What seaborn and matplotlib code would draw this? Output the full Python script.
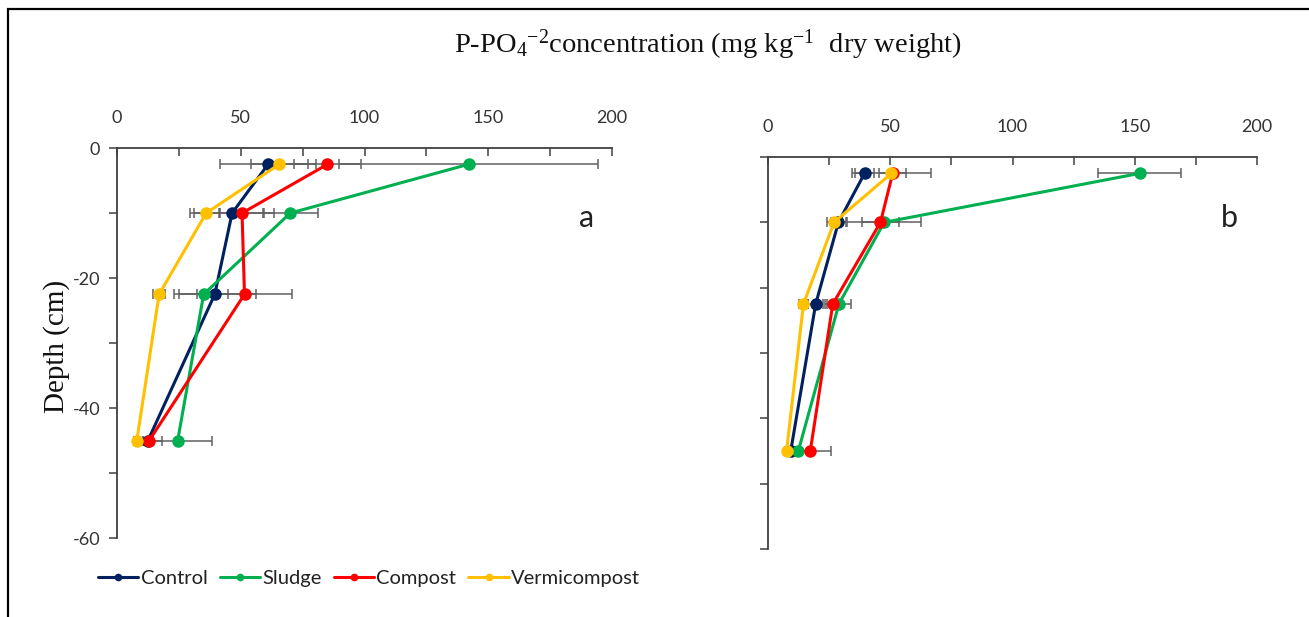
import matplotlib
matplotlib.use("Agg")
import matplotlib.pyplot as plt
import seaborn as sns
import pandas as pd
from matplotlib.lines import Line2D
from matplotlib.patches import Rectangle
from matplotlib.ticker import MultipleLocator

# ---------------- data ----------------
treatments = ["Control", "Sludge", "Compost", "Vermicompost"]
colors = ["#002060", "#00B050", "#FF0000", "#FFC000"]
depth = [-2.5, -10, -22.5, -45]

a_control = [61, 46.5, 39.5, 12.5]
a_control_sd = [19.5, 17, 16.5, 2]
a_sludge = [142, 70, 35, 24.5]
a_sludge_sd = [52.5, 11, 10, 14]
a_compost = [85, 50.5, 51.5, 13]
a_compost_sd = [13.5, 9, 19, 5]
a_verm = [65.5, 36, 17, 8]
a_verm_sd = [11.5, 5, 2.3, 1]

b_control = [39.5, 28.8, 19.5, 9.3]
b_control_sd = [4, 3, 3, 0.8]
b_sludge = [152, 47.5, 29, 12.4]
b_sludge_sd = [17, 15, 5, 1]
b_compost = [51, 46, 26.5, 17.3]
b_compost_sd = [5.5, 7.5, 3, 8.6]
b_verm = [50.5, 27, 14.5, 7.6]
b_verm_sd = [16, 3, 2, 0.6]

x_ticks = [0, 50, 100, 150, 200]
y_ticks = [-60, -40, -20, 0]

rows = []
panels = {
    "a": [(a_control, a_control_sd), (a_sludge, a_sludge_sd), (a_compost, a_compost_sd), (a_verm, a_verm_sd)],
    "b": [(b_control, b_control_sd), (b_sludge, b_sludge_sd), (b_compost, b_compost_sd), (b_verm, b_verm_sd)],
}
for p, series in panels.items():
    for t, (vals, sds) in zip(treatments, series):
        for d, v, s in zip(depth, vals, sds):
            rows.append({"panel": p, "treatment": t, "depth": d, "value": v, "sd": s})
df = pd.DataFrame(rows)

# ---------------- style ----------------
sns.set_theme(style="white")
plt.rcParams["font.family"] = ["Lato", "DejaVu Sans"]
plt.rcParams["axes.unicode_minus"] = False
plt.rcParams["mathtext.fontset"] = "custom"
plt.rcParams["mathtext.rm"] = "Liberation Serif"
plt.rcParams["mathtext.it"] = "Liberation Serif:italic"
plt.rcParams["mathtext.default"] = "regular"

fig = plt.figure(figsize=(13.09, 6.17), dpi=100)
axa = fig.add_axes([0.0894, 0.128, 0.3782, 0.632])
axb = fig.add_axes([0.5867, 0.1102, 0.3736, 0.6353])

spine_col = "#404040"
for ax, p in [(axa, "a"), (axb, "b")]:
    sub = df[df.panel == p]
    sns.lineplot(data=sub, x="value", y="depth", hue="treatment", hue_order=treatments,
                 palette=colors, sort=False, estimator=None, marker="o", markersize=9,
                 markeredgewidth=0, linewidth=2.2, ax=ax, legend=False, zorder=3)
    for t in treatments:
        s = sub[sub.treatment == t]
        ax.errorbar(s["value"], s["depth"], xerr=s["sd"], fmt="none", ecolor="#606060",
                    elinewidth=1.1, capsize=3.5, capthick=1.1, zorder=2)
    ax.set_xlim(0, 200)
    ax.set_ylim(-60, 0)
    ax.set_xlabel("")
    ax.set_ylabel("")
    ax.xaxis.tick_top()
    ax.set_xticks(x_ticks)
    ax.xaxis.set_minor_locator(MultipleLocator(25))
    ax.set_yticks(y_ticks)
    ax.yaxis.set_minor_locator(MultipleLocator(10))
    ax.tick_params(axis="x", which="both", direction="in", length=6, width=1.1,
                   color=spine_col, pad=16, labelsize=13, labelcolor="#333333")
    ax.tick_params(axis="y", which="both", direction="out", length=6, width=1.1,
                   color=spine_col, pad=6, labelsize=13, labelcolor="#333333", left=True)
    for sp in ["right", "bottom"]:
        ax.spines[sp].set_visible(False)
    for sp in ["top", "left"]:
        ax.spines[sp].set_color(spine_col)
        ax.spines[sp].set_linewidth(1.3)
    ax.grid(False)
    ax.patch.set_alpha(0)

axb.tick_params(axis="y", labelleft=False)

# panel letters
fig.text(587 / 1309, 1 - 218 / 617, "a", fontsize=22, ha="center", va="center", color="#222222")
fig.text(1229 / 1309, 1 - 218 / 617, "b", fontsize=22, ha="center", va="center", color="#222222")

# titles
fig.text(708 / 1309, 1 - 45 / 617,
         r"P-PO$_4$$^{-2}$concentration (mg kg$^{-1}$  dry weight)",
         family="Liberation Serif", fontsize=20.5, ha="center", va="center", color="#111111")
fig.text(57 / 1309, 1 - 346 / 617, "Depth (cm)", family="Liberation Serif", fontsize=21,
         rotation=90, ha="center", va="center", color="#111111")

# legend
handles = [Line2D([0], [0], color=c, lw=2.2, marker="o", markersize=5.5, markeredgewidth=0)
           for c in colors]
fig.legend(handles, treatments, loc="center left", bbox_to_anchor=(0.061, 1 - 578 / 617),
           ncol=4, frameon=False, fontsize=14.5, handlelength=2.0, handletextpad=0.12,
           columnspacing=0.6, labelcolor="#222222")

# outer frame
fig.patches.append(Rectangle((8 / 1309, -0.1), 1.2, 0.1 + 1 - 9 / 617, transform=fig.transFigure,
                             fill=False, edgecolor="black", linewidth=1.6))

fig.savefig("out.png", dpi=100)
